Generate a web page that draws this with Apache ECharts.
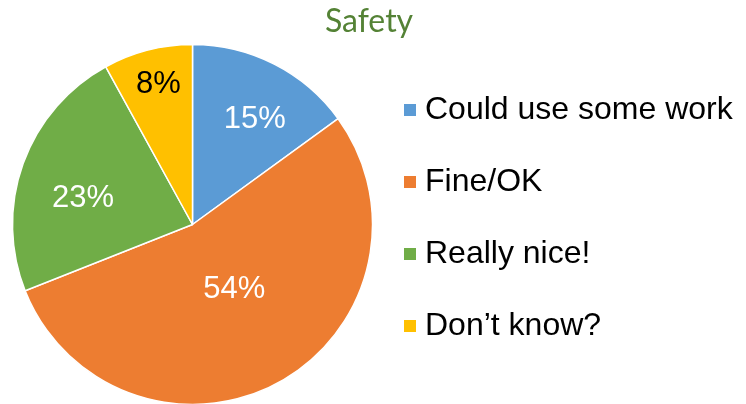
<!DOCTYPE html>
<html>
<head>
<meta charset="utf-8">
<script src="https://cdn.jsdelivr.net/npm/echarts@6/dist/echarts.min.js"></script>
<style>
  html, body { margin: 0; padding: 0; background: #ffffff; }
  #chart { width: 746px; height: 404px; }
</style>
</head>
<body>
<div id="chart"></div>
<script>
// Survey answers for "Safety" (percent of responses)
const categories = ['Could use some work', 'Fine/OK', 'Really nice!', 'Don\u2019t know?'];
const shares = [15, 54, 23, 8];

// Slice colours and label styling
const sliceColors = ['#5B9BD5', '#ED7D31', '#70AD47', '#FFC000'];
const labelColors = ['#ffffff', '#ffffff', '#ffffff', '#000000'];
const labelOffsets = [[20, -22], [-3, -17], [-22, 5], [-11, -50]];

const chart = echarts.init(document.getElementById('chart'), null, { renderer: 'canvas' });

chart.setOption({
  backgroundColor: '#ffffff',
  animation: false,
  title: {
    text: 'Safety',
    left: 369,
    top: 6,
    padding: 0,
    textAlign: 'center',
    textStyle: {
      fontFamily: 'Lato',
      fontWeight: 'normal',
      fontSize: 32,
      color: '#548235'
    }
  },
  legend: {
    orient: 'vertical',
    left: 402,
    top: 92,
    padding: 0,
    itemWidth: 14,
    itemHeight: 14,
    itemGap: 36,
    icon: 'rect',
    selectedMode: false,
    textStyle: {
      fontFamily: 'Liberation Sans',
      fontSize: 32,
      color: '#000000',
      lineHeight: 36,
      padding: [0, 0, 0, 3]
    },
    data: categories
  },
  series: [{
    type: 'pie',
    center: [192.5, 224.5],
    radius: 180,
    startAngle: 90,
    clockwise: true,
    avoidLabelOverlap: false,
    itemStyle: { borderColor: '#ffffff', borderWidth: 1.5 },
    label: {
      show: true,
      position: 'inside',
      formatter: '{c}%',
      fontFamily: 'Liberation Sans',
      fontSize: 31
    },
    labelLine: { show: false },
    emphasis: { disabled: true },
    data: categories.map((name, i) => ({
      name: name,
      value: shares[i],
      itemStyle: { color: sliceColors[i] },
      label: { color: labelColors[i], offset: labelOffsets[i] }
    }))
  }]
});
</script>
</body>
</html>
